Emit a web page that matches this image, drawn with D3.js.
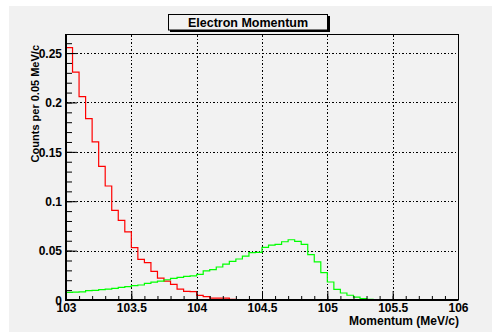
<!DOCTYPE html>
<html>
<head>
<meta charset="utf-8">
<script src="https://cdn.jsdelivr.net/npm/d3@7"></script>
<style>
  body { margin: 0; background: #fff; }
  text { font-family: "Liberation Sans", Arial, sans-serif; font-weight: bold; fill: #000; }
</style>
</head>
<body>
<div id="chart"></div>
<script>
// bins: 60 x 0.05 MeV from 103 to 106
const binStart = 103;
const binWidth = 0.05;
const redCounts = [
  0.2555, 0.2308, 0.2060, 0.1836, 0.1600, 0.1353, 0.1154, 0.0908, 0.0807, 0.0690,
  0.0530, 0.0412, 0.0378, 0.0290, 0.0222, 0.0192, 0.0159, 0.0111, 0.0088, 0.0085,
  0.0046, 0.0034, 0.0020, 0.0020, 0.0018, 0.0006, 0.0004, 0.0004, 0.0003, 0.0003,
  0.0003, 0.0002, 0.0002, 0.0002, 0.0002, 0.0001, 0.0001, 0.0001, 0.0001, 0.0001,
  0.0001, 0.0001, 0.0001, 0, 0, 0, 0, 0, 0, 0,
  0, 0, 0, 0, 0, 0, 0, 0, 0, 0
];
const greenCounts = [
  0.0078, 0.0080, 0.0082, 0.0094, 0.0097, 0.0106, 0.0110, 0.0118, 0.0127, 0.0135,
  0.0145, 0.0152, 0.0168, 0.0180, 0.0192, 0.0205, 0.0218, 0.0230, 0.0240, 0.0245,
  0.0260, 0.0294, 0.0308, 0.0334, 0.0364, 0.0392, 0.0415, 0.0445, 0.0480, 0.0483,
  0.0532, 0.0555, 0.0564, 0.0590, 0.0610, 0.0594, 0.0564, 0.0460, 0.0385, 0.0277,
  0.0182, 0.0108, 0.0071, 0.0048, 0.0030, 0.0014, 0.0007, 0.0003, 0, 0,
  0, 0, 0, 0, 0, 0, 0, 0, 0, 0
];
const xTicks = [103, 103.5, 104, 104.5, 105, 105.5, 106];
const yTicks = [0, 0.05, 0.1, 0.15, 0.2, 0.25];
const title = "Electron Momentum";
const xTitle = "Momentum (MeV/c)";
const yTitle = "Counts per 0.05 MeV/c";

const width = 492, height = 332;
const svg = d3.select("#chart").append("svg")
  .attr("width", width).attr("height", height);

// pad
svg.append("rect").attr("x", 9).attr("y", 6)
  .attr("width", width - 9).attr("height", height - 6)
  .attr("fill", "#f1f1f1");

const x = d3.scaleLinear().domain([103, 106]).range([66, 458]);
const y = d3.scaleLinear().domain([0, 0.2683]).range([300, 35]);

// frame fill
svg.append("rect").attr("x", 65.5).attr("y", 34.5)
  .attr("width", 393).attr("height", 265.5)
  .attr("fill", "#f2f2f2");

// grid
const gridDash = "2,2,1,2";
svg.append("g").selectAll("line")
  .data(xTicks.slice(1, -1))
  .join("line")
  .attr("x1", d => Math.round(x(d)) + 0.5).attr("x2", d => Math.round(x(d)) + 0.5)
  .attr("y1", 35).attr("y2", 300)
  .attr("stroke", "#000").attr("stroke-width", 1)
  .attr("stroke-dasharray", gridDash);
svg.append("g").selectAll("line")
  .data(yTicks.slice(1))
  .join("line")
  .attr("x1", 66).attr("x2", 458)
  .attr("y1", d => Math.round(y(d)) + 0.5).attr("y2", d => Math.round(y(d)) + 0.5)
  .attr("stroke", "#000").attr("stroke-width", 1)
  .attr("stroke-dasharray", gridDash);

// histograms
function stepPoints(counts) {
  const pts = counts.map((v, i) => [binStart + i * binWidth, v]);
  pts.push([binStart + counts.length * binWidth, counts[counts.length - 1]]);
  return pts;
}
const line = d3.line()
  .x(d => x(d[0]))
  .y(d => y(d[1]))
  .curve(d3.curveStepAfter);

svg.append("path").datum(stepPoints(redCounts))
  .attr("d", line).attr("fill", "none")
  .attr("stroke", "#ff0000").attr("stroke-width", 1.2);
svg.append("path").datum(stepPoints(greenCounts))
  .attr("d", line).attr("fill", "none")
  .attr("stroke", "#00ff00").attr("stroke-width", 1.2);

// axes: ROOT style, ticks inside the frame
const xAxis = d3.axisBottom(x).tickValues(xTicks).tickSize(-9).tickPadding(3)
  .tickFormat(d3.format("~g"));
const xMinor = d3.axisBottom(x).tickValues(d3.range(103, 106.001, 0.1)).tickSize(-4).tickFormat("");
const yAxis = d3.axisLeft(y).tickValues(yTicks).tickSize(-11).tickPadding(4)
  .tickFormat(d3.format("~g"));
const yMinor = d3.axisLeft(y).tickValues(d3.range(0, 0.2681, 0.01)).tickSize(-6).tickFormat("");

svg.append("g").attr("transform", "translate(0,300)").call(xMinor)
  .call(g => g.select(".domain").remove());
svg.append("g").attr("transform", "translate(0,300)").call(xAxis)
  .call(g => g.select(".domain").remove())
  .call(g => g.selectAll("text").style("font-size", "12px"));
svg.append("g").attr("transform", "translate(66,0)").call(yMinor)
  .call(g => g.select(".domain").remove());
svg.append("g").attr("transform", "translate(66,0)").call(yAxis)
  .call(g => g.select(".domain").remove())
  .call(g => g.selectAll("text").style("font-size", "12px").attr("dy", "0.35em"));
svg.selectAll(".tick line").attr("stroke", "#000");

// frame border
svg.append("rect").attr("x", 65.5).attr("y", 34.5)
  .attr("width", 393).attr("height", 265.5)
  .attr("fill", "none").attr("stroke", "#000").attr("stroke-width", 1);
svg.append("line").attr("x1", 66).attr("x2", 458).attr("y1", 300).attr("y2", 300)
  .attr("stroke", "#000").attr("stroke-width", 2);
svg.append("line").attr("x1", 66).attr("x2", 66).attr("y1", 35).attr("y2", 301)
  .attr("stroke", "#000").attr("stroke-width", 2);

// titles
svg.append("text").attr("x", 459).attr("y", 324.5)
  .attr("text-anchor", "end").style("font-size", "12px").text(xTitle);
svg.append("text").attr("transform", "translate(39,45) rotate(-90)")
  .attr("text-anchor", "end").style("font-size", "11px").text(yTitle);

// title box with shadow
svg.append("rect").attr("x", 170).attr("y", 16).attr("width", 160).attr("height", 16)
  .attr("fill", "#000");
svg.append("rect").attr("x", 168.5).attr("y", 14.5).attr("width", 159).attr("height", 15.5)
  .attr("fill", "#f1f1f1").attr("stroke", "#000").attr("stroke-width", 1);
svg.append("text").attr("x", 248).attr("y", 27)
  .attr("text-anchor", "middle").style("font-size", "12.5px").text(title);
</script>
</body>
</html>
